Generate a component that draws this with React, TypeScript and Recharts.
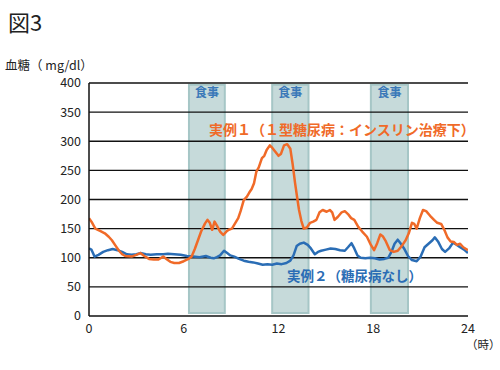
import {
  LineChart, Line, XAxis, YAxis, ReferenceArea, ReferenceLine,
} from 'recharts'

const hourTicks = [0, 6, 12, 18, 24]
const glucoseTicks = [0, 50, 100, 150, 200, 250, 300, 350, 400]

// meal periods (hours)
const mealStart = [6.33, 11.6, 17.85]
const mealEnd = [8.6, 13.9, 20.2]

// 実例1: type 1 diabetes, on insulin
const type1Hours = [
  0, 0.2, 0.4, 0.7, 1.0, 1.25, 1.45, 1.7, 1.9, 2.1, 2.3, 2.7, 3.0, 3.25, 3.5, 3.8,
  4.1, 4.4, 4.7, 4.9, 5.15, 5.4, 5.7, 6.0, 6.3, 6.5, 6.7, 6.9, 7.1, 7.35, 7.5, 7.65,
  7.8, 7.95, 8.1, 8.3, 8.5, 8.7, 8.85, 9.05, 9.25, 9.45, 9.6, 9.8, 10.0, 10.15, 10.3,
  10.45, 10.6, 10.75, 10.95, 11.1, 11.25, 11.45, 11.6, 11.8, 12.0, 12.15, 12.35, 12.55,
  12.75, 12.9, 13.05, 13.2, 13.3, 13.45, 13.6, 13.8, 14.0, 14.2, 14.4, 14.6, 14.8,
  15.05, 15.25, 15.4, 15.55, 15.75, 16.0, 16.2, 16.4, 16.6, 16.8, 17.05, 17.3, 17.6,
  17.85, 18.05, 18.25, 18.45, 18.6, 18.8, 19.05, 19.3, 19.55, 19.8, 20.05, 20.25,
  20.45, 20.6, 20.75, 20.95, 21.15, 21.35, 21.6, 21.85, 22.05, 22.3, 22.5, 22.7, 22.9,
  23.1, 23.3, 23.5, 23.7, 24.0,
]
const type1Values = [
  168, 160, 150, 146, 142, 136, 130, 120, 112, 106, 103, 102, 105, 108, 103, 98,
  97, 97, 102, 98, 93, 91, 91, 94, 98, 102, 115, 130, 145, 159, 165, 160,
  148, 162, 155, 145, 139, 145, 148, 150, 159, 168, 180, 199, 205, 212, 218,
  228, 248, 255, 271, 275, 285, 293, 289, 282, 275, 278, 293, 295,
  287, 260, 228, 200, 182, 163, 150, 152, 160, 162, 165, 178, 182,
  179, 182, 178, 165, 170, 178, 180, 175, 168, 165, 153, 145, 136,
  122, 113, 125, 140, 137, 128, 113, 110, 112, 120, 130, 142,
  160, 158, 150, 168, 182, 180, 172, 165, 160, 158, 148, 135, 128,
  127, 122, 124, 118, 113,
]

// 実例2: no diabetes
const type2Hours = [
  0, 0.15, 0.35, 0.6, 0.9, 1.2, 1.5, 1.8, 2.1, 2.4, 2.7, 3.0, 3.25, 3.6, 3.9, 4.3,
  4.7, 5.0, 5.4, 5.8, 6.2, 6.6, 7.0, 7.4, 7.7, 7.9, 8.1, 8.3, 8.55, 8.75, 8.95, 9.2,
  9.5, 9.8, 10.1, 10.4, 10.7, 11.0, 11.3, 11.6, 11.9, 12.2, 12.5, 12.75, 12.95, 13.15,
  13.35, 13.6, 13.85, 14.05, 14.3, 14.5, 14.7, 15.0, 15.3, 15.6, 15.9, 16.2, 16.4,
  16.62, 16.8, 17.0, 17.2, 17.5, 17.8, 18.1, 18.4, 18.7, 18.95, 19.15, 19.35, 19.55,
  19.75, 19.95, 20.2, 20.45, 20.75, 21.0, 21.25, 21.5, 21.75, 21.9, 22.1, 22.35,
  22.55, 22.8, 23.05, 23.3, 23.5, 23.75, 24.0,
]
const type2Values = [
  116, 114, 102, 105, 110, 113, 115, 113, 110, 106, 105, 106, 108, 106, 105, 106,
  106, 107, 106, 105, 103, 102, 101, 103, 100, 99, 101, 104, 112, 108, 104, 102,
  98, 95, 93, 92, 90, 88, 89, 88, 90, 89, 91, 95, 104, 120,
  124, 126, 122, 116, 106, 110, 112, 114, 116, 115, 113, 112, 118,
  125, 116, 104, 100, 99, 100, 99, 97, 98, 100, 110, 124, 131,
  124, 116, 103, 96, 94, 102, 118, 124, 130, 135, 128, 115,
  110, 116, 126, 122, 118, 114, 108,
]

const type1Data = type1Hours.map((h, i) => ({ hour: h, value: type1Values[i] }))
const type2Data = type2Hours.map((h, i) => ({ hour: h, value: type2Values[i] }))

const FONT = '"Noto Sans CJK JP", "Noto Sans", sans-serif'
const ORANGE = '#f06a28'
const BLUE = '#2a6db5'

export default function App() {
  return (
    <div style={{ position: 'absolute', left: 0, top: 0, width: 500, height: 370, background: 'white', fontFamily: FONT }}>
      <div style={{ position: 'absolute', left: 8, top: 6, fontSize: 22, lineHeight: '30px', color: '#222' }}>図3</div>
      <div style={{ position: 'absolute', left: 5, top: 57, fontSize: 12.5, lineHeight: '15px', color: '#222', whiteSpace: 'nowrap' }}>
        血糖（ mg/dl）
      </div>
      <div style={{ position: 'absolute', left: 466, top: 337, fontSize: 11.5, lineHeight: '15px', color: '#222' }}>（時）</div>

      <LineChart
        width={500}
        height={370}
        margin={{ top: 83, right: 32, left: 49, bottom: 24 }}
        style={{ fontFamily: FONT }}
      >
        <XAxis
          dataKey="hour"
          type="number"
          domain={[0, 24]}
          ticks={hourTicks}
          allowDataOverflow
          height={30}
          tickLine={false}
          axisLine={{ stroke: '#111', strokeWidth: 1.5 }}
          tick={{ fontSize: 12.5, fill: '#222' }}
        />
        <YAxis
          type="number"
          domain={[0, 400]}
          ticks={glucoseTicks}
          width={40}
          tickLine={false}
          axisLine={{ stroke: '#111', strokeWidth: 1.5 }}
          tick={{ fontSize: 12.5, fill: '#222' }}
        />
        {mealStart.map((s, i) => (
          <ReferenceArea
            key={'meal' + i}
            x1={s}
            x2={mealEnd[i]}
            y1={5}
            y2={397}
            fill="#c6dada"
            fillOpacity={1}
            stroke="#a6c6c6"
            strokeWidth={2}
            label={{ value: '食事', position: 'insideTop', offset: 4, fill: '#3a78b8', fontSize: 12, fontWeight: 700 }}
          />
        ))}
        {glucoseTicks.slice(1).map((v) => (
          <ReferenceLine key={'g' + v} y={v} stroke="#111" strokeWidth={1.3} />
        ))}
        <Line
          data={type2Data}
          dataKey="value"
          type="linear"
          stroke={BLUE}
          strokeWidth={2.5}
          strokeLinejoin="round"
          dot={false}
          isAnimationActive={false}
        />
        <Line
          data={type1Data}
          dataKey="value"
          type="linear"
          stroke={ORANGE}
          strokeWidth={2.5}
          strokeLinejoin="round"
          dot={false}
          isAnimationActive={false}
        />
      </LineChart>

      <div style={{ position: 'absolute', left: 209, top: 120, fontSize: 14, lineHeight: '18px', fontWeight: 700, color: ORANGE, whiteSpace: 'nowrap' }}>
        実例１（１型糖尿病：インスリン治療下）
      </div>
      <div style={{ position: 'absolute', left: 287, top: 266, fontSize: 13.5, lineHeight: '18px', fontWeight: 700, color: BLUE, whiteSpace: 'nowrap' }}>
        実例２（糖尿病なし）
      </div>
    </div>
  )
}
